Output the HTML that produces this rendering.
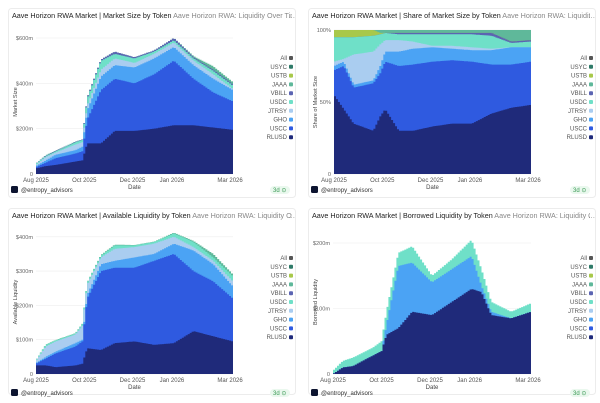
<!DOCTYPE html>
<html><head><meta charset="utf-8"><style>
body{margin:0;width:600px;height:403px;background:#fff;font-family:"Liberation Sans",sans-serif;overflow:hidden}
svg{display:block}
</style></head><body>
<svg id="s" width="600" height="403" xmlns="http://www.w3.org/2000/svg" font-family="Liberation Sans, sans-serif"></svg>
<script>
const S=document.getElementById('s');let h='';
const C={RLUSD:'#1f2a7a',USCC:'#2f5ae0',GHO:'#4ba3f4',JTRSY:'#aacdf0',USDC:'#6fe0c8',VBILL:'#5b64b2',JAAA:'#5fb89a',USTB:'#a8c84a',USYC:'#2e7a68',All:'#555'};
const LEG=['All','USYC','USTB','JAAA','VBILL','USDC','JTRSY','GHO','USCC','RLUSD'];
function interp(ts,vs,t){for(let i=0;i<ts.length-1;i++){if(t<=ts[i+1]){const f=(t-ts[i])/(ts[i+1]-ts[i]);return vs[i]+f*(vs[i+1]-vs[i]);}}return vs[vs.length-1];}
let cid=0;
function panel(px,py,title,ylab,x0,x1,yb,ppu,ticks,ts,layers){
 cid++;
 h+=`<clipPath id="c${cid}"><rect x="${px+10}" y="${py+8}" width="${px?280:282}" height="14"/></clipPath>`;
 h+=`<rect x="${px+8.5}" y="${py+8.5}" width="287" height="${py?186:189}" rx="3" fill="#fff" stroke="#ececec"/>`;
 h+=`<text clip-path="url(#c${cid})" x="${px+12}" y="${py+18}" font-size="7.2" fill="#222">${title}<tspan fill="#888"> Aave Horizon RWA: Liquidity Over Time by Token</tspan></text>`;
 h+=`<text x="${px+288}" y="${py+18}" font-size="7.2" fill="#888">…</text>`;
 ticks.forEach(([v,l])=>{const y=yb-v*ppu;h+=`<line x1="${x0}" x2="${x1}" y1="${y}" y2="${y}" stroke="#eee" stroke-width=".6"/><text x="${x0-3}" y="${y+2}" font-size="5.6" fill="#666" text-anchor="end">${l}</text>`;});
 const N=100,w=(x1-x0)/N;
 for(let li=layers.length-1;li>=0;li--){const [col,vs]=layers[li];let d=`M${x0} ${yb}`;
  for(let i=0;i<N;i++){const t=(i+.5)/N;const v=interp(ts,vs,t);const y=(yb-v*ppu).toFixed(1);d+=`L${(x0+i*w).toFixed(1)} ${y}L${(x0+(i+1)*w).toFixed(1)} ${y}`;}
  d+=`L${x1} ${yb}Z`;h+=`<path d="${d}" fill="${col}"/>`;}
 const lab=[['Aug 2025',0],['Oct 2025',.245],['Dec 2025',.49],['Jan 2026',.69],['Mar 2026',.985]];
 lab.forEach(([l,f])=>{h+=`<text x="${x0+f*(x1-x0)}" y="${yb+8}" font-size="6" fill="#555" text-anchor="middle">${l}</text>`;});
 h+=`<text x="${(x0+x1)/2}" y="${yb+15}" font-size="6" fill="#444" text-anchor="middle">Date</text>`;
 const cy=(yb+py+30)/2;h+=`<text transform="translate(${px+17},${cy}) rotate(-90)" font-size="5.6" fill="#444" text-anchor="middle">${ylab}</text>`;
 LEG.forEach((k,i)=>{const y=py+58+i*8.8;h+=`<text x="${px+287}" y="${y+2}" font-size="6" fill="#555" text-anchor="end">${k}</text><rect x="${px+289}" y="${y-2}" width="4" height="4" rx="1" fill="${C[k]}"/>`;});
 const fy=py+(py?193:190);
 h+=`<rect x="${px+11}" y="${fy-4}" width="7" height="7" rx="1.5" fill="#0d1430"/><text x="${px+21}" y="${fy+2}" font-size="6" fill="#333">@entropy_advisors</text>`;
 h+=`<rect x="${px+270}" y="${fy-4}" width="20" height="8" rx="4" fill="#eaf8ee"/><text x="${px+273}" y="${fy+2}" font-size="6" fill="#3a9a55">3d ⊙</text>`;
}
const T=[0,.05,.1,.2,.235,.26,.33,.4,.5,.6,.7,.8,.9,1];
panel(0,0,'Aave Horizon RWA Market | Market Size by Token','Market Size',36,233,174,136/600,[[0,'0'],[200,'$200m'],[400,'$400m'],[600,'$600m']],T,[
 [C.RLUSD,[25,35,40,55,60,135,135,190,190,200,215,215,205,195]],
 [C.USCC,[30,50,70,90,100,240,370,420,400,440,500,420,360,320]],
 [C.GHO,[35,60,85,105,120,280,430,480,470,510,560,480,420,370]],
 [C.JTRSY,[40,75,95,130,140,300,460,510,490,530,580,500,440,375]],
 [C.USDC,[45,80,100,140,150,330,500,530,510,540,590,510,455,390]],
 [C.VBILL,[46,82,102,142,152,335,505,540,515,545,600,515,460,395]],
 [C.JAAA,[46,83,103,143,152,335,505,540,515,545,600,520,475,405]]]);
panel(300,0,'Aave Horizon RWA Market | Share of Market Size by Token','Share of Market Size',334,531,174,1.44,[[0,'0'],[50,'50%'],[100,'100%']],T,[
 [C.RLUSD,[55,45,35,30,40,45,30,30,33,35,35,42,46,48]],
 [C.USCC,[72,75,60,63,70,78,75,76,78,79,78,76,76,78]],
 [C.GHO,[75,78,62,65,75,85,85,87,88,87,86,86,88,88]],
 [C.JTRSY,[78,80,83,85,90,93,93,92,89,89,88,87,88,88]],
 [C.USDC,[95,95,95,96,97,98,97,97,97,97,97,96,91,92]],
 [C.VBILL,[95,95,95,96,97,98,98,98,98,98,98,98,92,93]],
 [C.USTB,[100,100,100,100,98,98,98,98,98,98,98,98,92,93]],
 [C.JAAA,[100,100,100,100,100,100,100,100,100,100,100,100,100,100]]]);
panel(0,200,'Aave Horizon RWA Market | Available Liquidity by Token','Available Liquidity',36,233,374,0.343,[[0,'0'],[100,'$100m'],[200,'$200m'],[300,'$300m'],[400,'$400m']],T,[
 [C.RLUSD,[25,25,20,25,30,75,70,90,95,85,90,125,110,95]],
 [C.USCC,[30,45,60,80,95,220,300,310,310,330,350,300,270,220]],
 [C.GHO,[32,50,65,90,100,230,320,330,340,350,380,360,320,255]],
 [C.JTRSY,[38,80,95,115,140,260,340,365,370,380,400,370,330,270]],
 [C.USDC,[40,85,98,118,145,265,345,375,375,385,410,385,340,285]],
 [C.JAAA,[40,86,99,119,146,266,347,377,376,386,412,388,350,290]]]);
const T4=[0,.05,.1,.2,.245,.27,.33,.4,.5,.6,.7,.75,.8,.9,1];
panel(300,200,'Aave Horizon RWA Market | Borrowed Liquidity by Token','Borrowed Liquidity',333,531,374,0.655,[[0,'0'],[100,'$100m'],[200,'$200m']],T4,[
 [C.RLUSD,[0,10,12,28,35,60,70,95,90,110,130,125,90,85,95]],
 [C.GHO,[0,10,12,28,35,75,165,170,140,160,180,135,95,85,95]],
 [C.USDC,[5,20,25,40,50,95,185,195,150,175,205,160,110,95,108]]]);
S.innerHTML=h;
</script>
</body></html>
